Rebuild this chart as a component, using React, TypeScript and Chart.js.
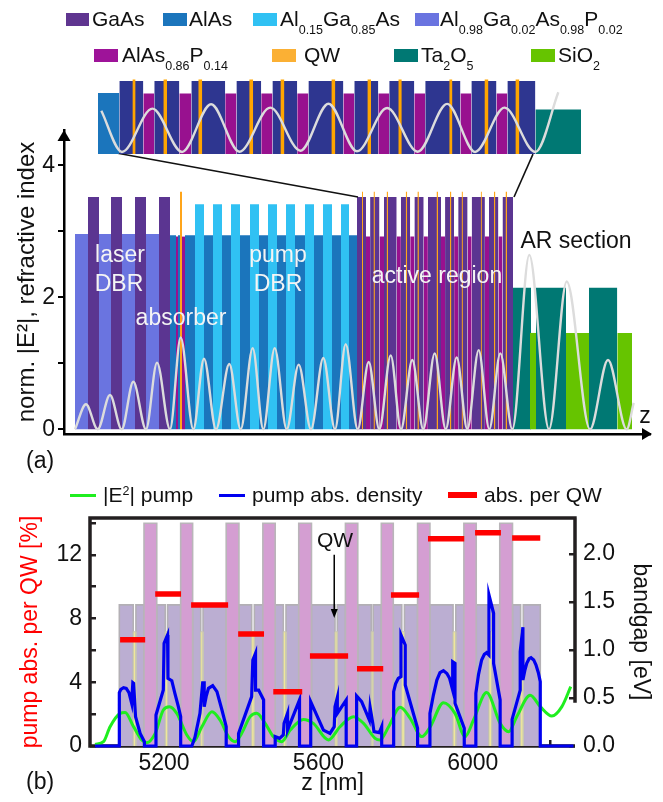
import React, { useEffect, useRef } from "react";
import { Chart, registerables } from "chart.js";

Chart.register(...registerables);

type Span = [number, number];

// ---------- structure (a): layer spans along z ----------
const laserLowSpans: Span[] = [[11, 24], [35, 47], [58, 71], [82, 95]];
const laserGaAsSpans: Span[] = [[24, 35], [47, 58], [71, 82], [95, 106]];
const absorberAlAsSpans: Span[] = [[106, 112], [114, 116]];
const absorberPSpans: Span[] = [[112, 114], [118, 121]];
const absorberQwSpans: Span[] = [[116, 118]];
const pumpAlAsSpans: Span[] = [[121, 131], [140, 149], [158, 167], [176, 186], [195, 204], [213, 222], [231, 241], [250, 259], [268, 277], [285, 293]];
const pumpAlGaAsSpans: Span[] = [[131, 140], [149, 158], [167, 176], [186, 195], [204, 213], [222, 231], [241, 250], [259, 268], [277, 285]];
const activeGaAsSpans: Span[] = [[293, 302], [306.1, 315.5], [320, 332.7], [336.9, 346.2], [350.4, 359.7], [363.9, 377], [381.1, 390.1], [394.2, 403.6], [407.7, 420.9], [425, 434.4], [438.5, 449]];
const activePSpans: Span[] = [[302, 306.1], [315.5, 320], [332.7, 336.9], [346.2, 350.4], [359.7, 363.9], [377, 381.1], [390.1, 394.2], [403.6, 407.7], [420.9, 425], [434.4, 438.5]];
const activeQwSpans: Span[] = [[297.9, 299.1], [309.5, 310.9], [322.6, 324.1], [341.7, 343.2], [353.4, 354.9], [372.5, 374], [386, 387.4], [397.6, 398.9], [416.7, 417.9], [429.9, 431.4], [441.5, 443]];
const ta2o5Spans: Span[] = [[449, 467], [472, 502], [525, 553.3]];
const sio2Spans: Span[] = [[466, 472], [502, 525], [553.3, 568]];

const indexGaAs = 3.52;
const indexLaserLow = 2.96;
const indexAlAs = 2.94;
const indexAlGaAs = 3.41;
const indexAlAsP = 2.92;
const indexTa2O5 = 2.145;
const indexSiO2 = 1.46;
const indexQw = 3.6;

const fieldZ = [11, 22, 33.7, 46, 57.7, 69.3, 82, 93, 106, 116.7, 129.3, 140, 152, 165.3, 176.7, 188.7, 199.3, 210.7, 222.7, 234.7, 247, 259.3, 271, 281.7, 293.7, 304.7, 315.3, 326.7, 337, 348.3, 359.3, 370.7, 381.7, 392.7, 403.3, 414.7, 425.3, 436.3, 448.3, 465.3, 485, 502.7, 526, 544, 562.7, 569.7];
const fieldE2 = [0, 0.38, 0, 0.52, 0, 0.72, 0, 1.01, 0, 1.39, 0, 1.07, 0, 0.99, 0, 1.23, 0, 1.23, 0, 0.98, 0, 1.08, 0, 1.29, 0, 1.02, 0, 1.12, 0, 1.05, 0, 1.15, 0, 1.09, 0, 1.2, 0, 1.15, 0, 2.64, 0, 2.24, 0, 1.05, 0, 0.4];

const insetFieldZ = [286.25, 294, 305.4, 316.5, 327.4, 338, 349.6, 360.9, 371.4, 382.1, 393.4, 404.9, 415.9, 426.4, 437.4, 449, 457.6];
const insetFieldE2 = [2.09, 0.1, 2.19, 0.1, 2.4, 0.11, 2.24, 0.16, 2.43, 0.13, 2.22, 0.11, 2.42, 0.1, 2.24, 0.1, 2.98];

const zoomLineLeftZ = [51, 294];
const zoomLineLeftY = [4.19, 3.52];
const zoomLineRightZ = [469, 450];
const zoomLineRightY = [4.17, 3.52];

// ---------- structure (b) ----------
const barrierSpans: Span[] = [[5084, 5120], [5127, 5148], [5181, 5203], [5209, 5243], [5274, 5295], [5301, 5361], [5394, 5427], [5434, 5456], [5488, 5509], [5516, 5549], [5582, 5643], [5649, 5670], [5702, 5737], [5742, 5763], [5794, 5816], [5823, 5857], [5889, 5949], [5956, 5977], [6009, 6042], [6049, 6070], [6103, 6124], [6131, 6175]];
const highGapSpans: Span[] = [[5148, 5181], [5243, 5274], [5361, 5394], [5456, 5488], [5549, 5582], [5670, 5702], [5763, 5794], [5857, 5889], [5977, 6009], [6070, 6103]];
const qwGapSpans: Span[] = [[5120, 5127], [5203, 5209], [5295, 5301], [5427, 5434], [5509, 5516], [5643, 5649], [5737, 5742], [5816, 5823], [5949, 5956], [6042, 6049], [6124, 6131]];
const barrierGap = 1.47;
const highGap = 2.32;
const qwGap = 1.19;

const pumpE2Z = [5021, 5043, 5060, 5086, 5099, 5121, 5142, 5155, 5177, 5198, 5214, 5233, 5259, 5276, 5298, 5324, 5345, 5367, 5384, 5401, 5423, 5440, 5462, 5483, 5505, 5527, 5561, 5587, 5626, 5656, 5691, 5717, 5747, 5760, 5782, 5812, 5838, 5868, 5890, 5924, 5954, 5980, 6002, 6036, 6071, 6093, 6114, 6149, 6175, 6205, 6231, 6254];
const pumpE2 = [0.1, 0.27, 1.21, 2.05, 2.11, 1.21, 0.38, 0.21, 0.79, 2.26, 2.47, 2.05, 0.69, 0.27, 1.21, 2.15, 1.63, 0.59, 0.27, 0.79, 1.84, 2.05, 1.42, 0.59, 0.27, 1, 1.67, 1.42, 0.38, 1.21, 1.84, 1.42, 0.48, 0.38, 1.21, 2.43, 1.74, 0.59, 1.21, 2.72, 2.05, 0.59, 1.63, 3.35, 1.42, 0.9, 1.84, 3.18, 2.47, 1.88, 2.47, 3.72];

const absDensityZ = [5021, 5084, 5084, 5088, 5095, 5102, 5109, 5116, 5119, 5121, 5126, 5138, 5149, 5149, 5179, 5179, 5198, 5200, 5209, 5210, 5220, 5228, 5237, 5243, 5243, 5272, 5280, 5293, 5300, 5304, 5304, 5309, 5315, 5326, 5337, 5350, 5361, 5361, 5393, 5393, 5427, 5430, 5437, 5437, 5445, 5458, 5458, 5488, 5488, 5499, 5509, 5511, 5520, 5520, 5551, 5551, 5580, 5580, 5613, 5630, 5641, 5643, 5649, 5649, 5672, 5672, 5699, 5699, 5712, 5732, 5734, 5741, 5744, 5758, 5764, 5764, 5795, 5795, 5800, 5807, 5814, 5814, 5825, 5825, 5857, 5857, 5889, 5889, 5898, 5907, 5915, 5924, 5933, 5940, 5948, 5948, 5954, 5954, 5978, 5978, 6008, 6008, 6015, 6023, 6030, 6036, 6042, 6042, 6054, 6054, 6071, 6071, 6102, 6102, 6123, 6123, 6130, 6130, 6135, 6140, 6146, 6151, 6158, 6164, 6170, 6175, 6175, 6261];
const absDensity = [0, 0, 3.35, 3.56, 3.66, 3.62, 3.35, 2.68, 3.97, 3.93, 1.84, 0.79, 0.27, 0, 0, 1.95, 3.51, 6.44, 6.97, 4.25, 4.1, 3.3, 2.47, 1.84, 0, 0, 0.54, 2.05, 3.97, 3.97, 2.47, 3.1, 3.62, 3.79, 3.41, 2.26, 1.21, 0, 0, 0.79, 3.1, 5.4, 5.82, 3.51, 3.51, 2.89, 0, 0, 0.59, 0.48, 0.69, 1.42, 2.05, 1, 2.89, 0, 0, 2.78, 1, 0.79, 1.21, 2.47, 3.05, 2.05, 2.89, 0, 0, 3.14, 2.78, 1.63, 2.43, 1.42, 0.9, 0.84, 1.21, 0, 0, 3.41, 3.9, 4.25, 4.35, 6.97, 6.34, 3.83, 1.11, 0, 0, 2.05, 3.2, 4.14, 4.6, 4.73, 4.55, 4.25, 3.51, 5.29, 5.19, 2.68, 1.11, 0, 0, 3.31, 4.5, 5.4, 5.75, 5.86, 5.71, 9.48, 8.33, 5.19, 2.89, 0, 0, 1.67, 3.51, 5.92, 7.45, 4.14, 4.75, 5.19, 5.48, 5.54, 5.4, 5.08, 4.6, 4.04, 0, 0];

const absPerQwSpans: Span[] = [[5086, 5151], [5177, 5244], [5270, 5366], [5392, 5459], [5483, 5558], [5578, 5677], [5700, 5768], [5788, 5861], [5884, 5978], [6006, 6073], [6102, 6175]];
const absPerQw = [6.67, 9.54, 8.85, 7.03, 3.41, 5.65, 4.85, 9.48, 13.0, 13.39, 13.06];

const qwArrowZ = 5641;
const qwArrowFrom = 12;
const qwArrowTo = 8.03;

// ---------- text ----------
const leftTicksA = ["0", "2", "4"];
const yTitleA = "norm. |E²|, refractive index";
const xTitleB = "z [nm]";
const yTitleLeftB = "pump abs. per QW [%]";
const yTitleRightB = "bandgap [eV]";
const fontFamily = '"Liberation Sans", Arial, sans-serif';

const C = {
  gaas: "#5b3591",
  low: "#6a74e0",
  alas: "#1b75bc",
  algaas: "#30c1f3",
  alasp: "#98118f",
  qw: "#ffa51a",
  ta: "#007873",
  sio: "#66c400",
  insetGaas: "#2e3690",
  field: "#dcdcdc",
};

function rect(spans: Span[], height: number, color: string, order: number, yAxisID = "y", border?: string, borderWidth = 0) {
  return {
    type: "line",
    yAxisID,
    order,
    data: spans.flatMap(([a, b]) => [
      { x: a, y: 0 },
      { x: a, y: height },
      { x: b, y: height },
      { x: b, y: 0 },
      { x: b, y: null },
    ]),
    backgroundColor: color,
    borderColor: border ?? color,
    borderWidth,
    fill: "origin",
    pointRadius: 0,
    tension: 0,
    spanGaps: false,
  };
}

function curve(xs: number[], ys: number[], color: string, width: number, order: number, smooth = true) {
  return {
    type: "line",
    order,
    data: xs.map((x, i) => ({ x, y: ys[i] })),
    borderColor: color,
    backgroundColor: color,
    borderWidth: width,
    pointRadius: 0,
    fill: false,
    tension: 0,
    cubicInterpolationMode: smooth ? "monotone" : "default",
    clip: false,
  };
}

const arrowsPlugin = {
  id: "axisArrows",
  afterDraw(chart: any) {
    const { ctx, chartArea: a } = chart;
    ctx.save();
    ctx.fillStyle = "#000";
    ctx.beginPath();
    ctx.moveTo(a.left, a.top);
    ctx.lineTo(a.left - 6.5, a.top + 11);
    ctx.lineTo(a.left + 6.5, a.top + 11);
    ctx.closePath();
    ctx.fill();
    ctx.beginPath();
    ctx.moveTo(a.right + 2, a.bottom);
    ctx.lineTo(a.right - 8, a.bottom - 6);
    ctx.lineTo(a.right - 8, a.bottom + 6);
    ctx.closePath();
    ctx.fill();
    ctx.restore();
  },
};

const framePlugin = {
  id: "frame",
  beforeDatasetsDraw(chart: any) {
    const { ctx, chartArea: a, scales } = chart;
    ctx.save();
    ctx.strokeStyle = "#231f20";
    ctx.lineWidth = 3.5;
    ctx.lineCap = "butt";
    ctx.beginPath();
    ctx.moveTo(a.right + 1.7, a.top);
    ctx.lineTo(a.left, a.top);
    ctx.lineTo(a.left, a.bottom);
    ctx.lineTo(a.right, a.bottom);
    ctx.moveTo(a.right, a.top);
    ctx.lineTo(a.right, scales.y2.getPixelForValue(0.45));
    ctx.stroke();
    ctx.restore();
  },
};

const qwArrowPlugin = {
  id: "qwArrow",
  afterDatasetsDraw(chart: any) {
    const { ctx, scales } = chart;
    const x = scales.x.getPixelForValue(qwArrowZ);
    const y0 = scales.y.getPixelForValue(qwArrowFrom);
    const y1 = scales.y.getPixelForValue(qwArrowTo);
    ctx.save();
    ctx.strokeStyle = "#000";
    ctx.fillStyle = "#000";
    ctx.lineWidth = 1.5;
    ctx.beginPath();
    ctx.moveTo(x, y0);
    ctx.lineTo(x, y1 - 3);
    ctx.stroke();
    ctx.beginPath();
    ctx.moveTo(x, y1);
    ctx.lineTo(x - 3.5, y1 - 9);
    ctx.lineTo(x + 3.5, y1 - 9);
    ctx.closePath();
    ctx.fill();
    ctx.restore();
  },
};

const font = (size: number) => ({ family: fontFamily, size, weight: "normal" as const });

function makeMain(canvas: HTMLCanvasElement) {
  const layers = [
    rect(laserLowSpans, indexLaserLow, C.low, 30),
    rect(laserGaAsSpans, indexGaAs, C.gaas, 30),
    rect(absorberAlAsSpans, indexAlAs, C.alas, 30),
    rect(absorberPSpans, indexAlAsP, C.alasp, 30),
    rect(pumpAlAsSpans, indexAlAs, C.alas, 30),
    rect(pumpAlGaAsSpans, indexAlGaAs, C.algaas, 30),
    rect(activePSpans, indexAlAsP, C.alasp, 30),
    rect(activeGaAsSpans, indexGaAs, C.gaas, 30),
    rect(ta2o5Spans, indexTa2O5, C.ta, 30),
    rect(sio2Spans, indexSiO2, C.sio, 29),
    rect(absorberQwSpans, indexQw, C.qw, 20),
    rect(activeQwSpans, indexQw, C.qw, 20),
  ];
  return new Chart(canvas, {
    type: "line",
    data: {
      datasets: [
        curve(fieldZ, fieldE2, C.field, 2.4, 1),
        curve(zoomLineLeftZ, zoomLineLeftY, "#111", 1.6, 2, false),
        curve(zoomLineRightZ, zoomLineRightY, "#111", 1.6, 2, false),
        ...layers,
      ] as any,
    },
    plugins: [arrowsPlugin],
    options: {
      animation: false,
      responsive: false,
      layout: { padding: { left: 13, right: 13, top: 130, bottom: 367 } },
      plugins: { legend: { display: false }, tooltip: { enabled: false } },
      scales: {
        x: {
          type: "linear",
          min: 0,
          max: 586,
          grid: { display: false },
          border: { color: "#000", width: 2.5 },
          ticks: { display: false },
          afterFit: (s: any) => { s.height = 1; },
        },
        y: {
          min: -0.0712,
          max: 4.535,
          grid: { display: true, drawOnChartArea: false, drawTicks: true, tickLength: 6, color: "#000", lineWidth: 2 },
          border: { color: "#000", width: 2.5 },
          title: { display: true, text: yTitleA, font: font(24), color: "#111", padding: 0 },
          ticks: {
            stepSize: 1,
            includeBounds: false,
            autoSkip: false,
            color: "#111",
            font: font(23),
            padding: 3,
            callback: (v: any) => (leftTicksA.includes(String(v)) ? String(v) : ""),
          },
          afterFit: (s: any) => { s.width = 51; },
        },
      },
    } as any,
  });
}

function makeInset(canvas: HTMLCanvasElement) {
  return new Chart(canvas, {
    type: "line",
    data: {
      datasets: [
        curve(insetFieldZ, insetFieldE2, C.field, 2.4, 1),
        rect(activeQwSpans, indexQw, "#ffa500", 5),
        rect(pumpAlAsSpans, indexAlAs, C.alas, 30),
        rect(activePSpans, indexAlAsP, C.alasp, 30),
        rect(activeGaAsSpans, indexGaAs, C.insetGaas, 30),
        rect(ta2o5Spans, indexTa2O5, C.ta, 30),
      ] as any,
    },
    options: {
      animation: false,
      responsive: false,
      layout: { padding: { left: 98, right: 82, top: 78, bottom: 648 } },
      plugins: { legend: { display: false }, tooltip: { enabled: false } },
      scales: {
        x: { type: "linear", display: false, min: 285, max: 466.1 },
        y: { display: false, min: 0, max: 3.67 },
      },
    } as any,
  });
}

function makeBottom(canvas: HTMLCanvasElement) {
  const redBars = absPerQwSpans.flatMap(([a, b], i) => [
    { x: a, y: absPerQw[i] },
    { x: b, y: absPerQw[i] },
    { x: b, y: null },
  ]);
  return new Chart(canvas, {
    type: "line",
    data: {
      datasets: [
        {
          type: "line",
          order: 1,
          data: redBars,
          borderColor: "#ff0000",
          borderWidth: 5.5,
          pointRadius: 0,
          fill: false,
          spanGaps: false,
          borderCapStyle: "butt",
        },
        curve(absDensityZ, absDensity, "#0000f0", 3.2, 2, false),
        curve(pumpE2Z, pumpE2, "#1fee1f", 3, 3),
        rect(highGapSpans, highGap, "#d49ed2", 10, "y2", "#b9b5b9", 1.6),
        rect(barrierSpans, barrierGap, "#bbaed2", 12, "y2", "#b3b0b5", 1.6),
        rect(qwGapSpans, qwGap, "#efe79a", 11, "y2", "#c9c7b5", 1),
      ] as any,
    },
    plugins: [framePlugin, qwArrowPlugin],
    options: {
      animation: false,
      responsive: false,
      layout: { padding: { left: 17, right: 9, top: 518, bottom: 5 } },
      plugins: { legend: { display: false }, tooltip: { enabled: false } },
      scales: {
        x: {
          type: "linear",
          min: 5008,
          max: 6265,
          grid: { drawOnChartArea: false, drawTicks: true, tickLength: -6, color: "#231f20", lineWidth: 2.5 },
          border: { display: false },
          title: { display: true, text: xTitleB, font: font(23), color: "#111", padding: 0 },
          ticks: {
            stepSize: 200,
            includeBounds: false,
            autoSkip: false,
            maxRotation: 0,
            color: "#111",
            font: font(23),
            padding: 10,
            callback: (v: any) => (Number(v) % 400 === 0 ? String(v) : ""),
          },
          afterFit: (s: any) => { s.height = 51; },
        },
        y: {
          position: "left",
          min: 0,
          max: 14.31,
          grid: { drawOnChartArea: false, drawTicks: true, tickLength: -6, color: "#231f20", lineWidth: 2.5 },
          border: { display: false },
          title: { display: true, text: yTitleLeftB, font: font(23), color: "#ff0000", padding: 0 },
          ticks: {
            stepSize: 2,
            includeBounds: false,
            autoSkip: false,
            color: "#111",
            font: font(23),
            padding: 14,
            callback: (v: any) => (Number(v) % 4 === 0 ? String(v) : ""),
          },
          afterFit: (s: any) => { s.width = 73; },
        },
        y2: {
          position: "right",
          min: 0,
          max: 2.375,
          grid: { drawOnChartArea: false, drawTicks: true, tickLength: -6, color: "#231f20", lineWidth: 2.5 },
          border: { display: false },
          title: { display: true, text: yTitleRightB, font: font(23), color: "#111", padding: 0 },
          ticks: {
            stepSize: 0.5,
            includeBounds: false,
            autoSkip: false,
            color: "#111",
            font: font(23),
            padding: 14,
            callback: (v: any) => Number(v).toFixed(1),
          },
          afterFit: (s: any) => { s.width = 79; },
        },
      },
    } as any,
  });
}

const Sub = ({ children }: { children: React.ReactNode }) => (
  <span style={{ fontSize: 12.5, position: "relative", top: 8 }}>{children}</span>
);
const Sup = ({ children }: { children: React.ReactNode }) => (
  <span style={{ fontSize: 12.5, position: "relative", top: -7 }}>{children}</span>
);

const Swatch = ({ x, y, w = 23.5, h = 12.5, color }: { x: number; y: number; w?: number; h?: number; color: string }) => (
  <div style={{ position: "absolute", left: x, top: y, width: w, height: h, background: color }} />
);

const Label = ({ x, cy, size = 21, color = "#111", center, children }: { x: number; cy: number; size?: number; color?: string; center?: boolean; children: React.ReactNode }) => (
  <div
    style={{
      position: "absolute",
      left: x,
      top: cy - 15,
      height: 30,
      lineHeight: "30px",
      fontSize: size,
      fontFamily,
      color,
      whiteSpace: "nowrap",
      transform: center ? "translateX(-50%)" : undefined,
    }}
  >
    {children}
  </div>
);

const canvasStyle: React.CSSProperties = { position: "absolute", left: 0, top: 0, display: "block" };

export default function App() {
  const mainRef = useRef<HTMLCanvasElement>(null);
  const insetRef = useRef<HTMLCanvasElement>(null);
  const bottomRef = useRef<HTMLCanvasElement>(null);

  useEffect(() => {
    const charts = [makeMain(mainRef.current!), makeInset(insetRef.current!), makeBottom(bottomRef.current!)];
    return () => charts.forEach((c) => c.destroy());
  }, []);

  return (
    <div style={{ position: "absolute", left: 0, top: 0, width: 663, height: 802, overflow: "hidden", background: "#fff" }}>
      <canvas ref={mainRef} width={663} height={802} style={canvasStyle} />
      <canvas ref={insetRef} width={663} height={802} style={canvasStyle} />
      <canvas ref={bottomRef} width={663} height={802} style={canvasStyle} />

      <Swatch x={65.5} y={13} color="#5f3590" />
      <Label x={92} cy={19}>GaAs</Label>
      <Swatch x={163} y={13} color="#1b75bc" />
      <Label x={189} cy={19}>AlAs</Label>
      <Swatch x={253} y={13} color="#30c1f3" />
      <Label x={280} cy={19}>Al<Sub>0.15</Sub>Ga<Sub>0.85</Sub>As</Label>
      <Swatch x={415} y={13} color="#6a74e0" />
      <Label x={440} cy={19}>Al<Sub>0.98</Sub>Ga<Sub>0.02</Sub>As<Sub>0.98</Sub>P<Sub>0.02</Sub></Label>

      <Swatch x={94} y={49} color="#9e1399" />
      <Label x={122} cy={55}>AlAs<Sub>0.86</Sub>P<Sub>0.14</Sub></Label>
      <Swatch x={272} y={49} color="#fbb034" />
      <Label x={304} cy={55}>QW</Label>
      <Swatch x={394} y={49} color="#007873" />
      <Label x={421} cy={55}>Ta<Sub>2</Sub>O<Sub>5</Sub></Label>
      <Swatch x={531} y={49} color="#66c400" />
      <Label x={558} cy={55}>SiO<Sub>2</Sub></Label>

      <Label x={120} cy={254} size={23} color="#f4f4f4" center>laser</Label>
      <Label x={119} cy={283} size={23} color="#f4f4f4" center>DBR</Label>
      <Label x={181} cy={317} size={23} color="#f4f4f4" center>absorber</Label>
      <Label x={278} cy={254} size={23} color="#f4f4f4" center>pump</Label>
      <Label x={278} cy={283} size={23} color="#f4f4f4" center>DBR</Label>
      <Label x={437} cy={275} size={23} color="#f4f4f4" center>active region</Label>
      <Label x={576} cy={240} size={23} center>AR section</Label>
      <Label x={645} cy={415} size={23} center>z</Label>
      <Label x={26} cy={460} size={23}>(a)</Label>
      <Label x={26} cy={781} size={23}>(b)</Label>

      <Swatch x={70} y={494} w={26} h={3} color="#1fee1f" />
      <Label x={103} cy={495}>|E<Sup>2</Sup>| pump</Label>
      <Swatch x={219} y={494} w={26} h={3} color="#0000f0" />
      <Label x={252} cy={495}>pump abs. density</Label>
      <Swatch x={448} y={492} w={29} h={6} color="#ff0000" />
      <Label x={484} cy={495}>abs. per QW</Label>
      <Label x={335} cy={540} size={21} center>QW</Label>
    </div>
  );
}
